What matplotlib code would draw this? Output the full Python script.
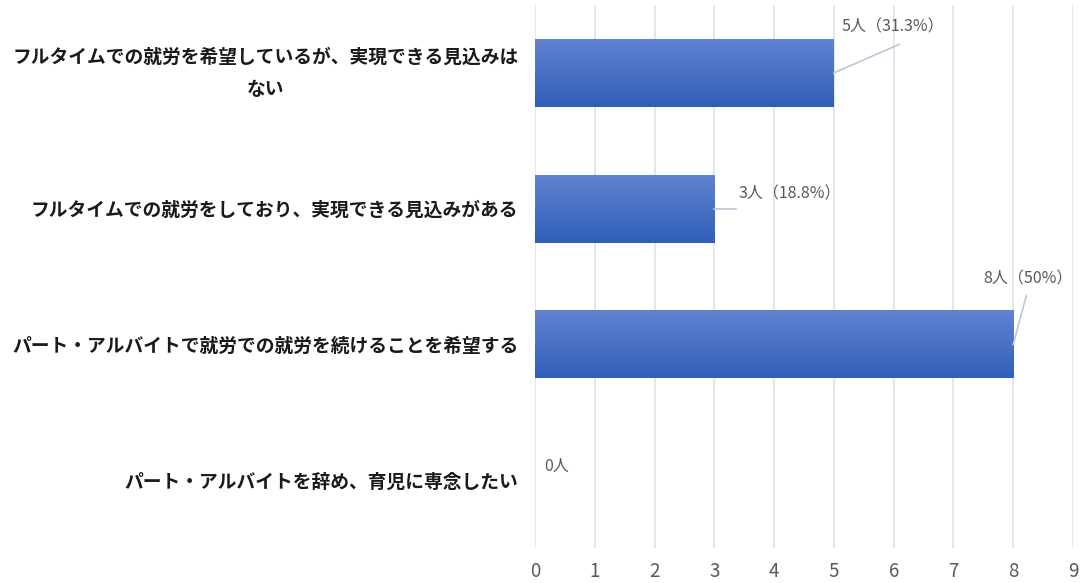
import matplotlib
matplotlib.use("Agg")
import matplotlib.pyplot as plt  # noqa: E402
import matplotlib.transforms as mtransforms  # noqa: E402
import numpy as np  # noqa: E402
from matplotlib.colors import LinearSegmentedColormap  # noqa: E402

plt.rcParams["font.family"] = ["Noto Sans CJK JP", "DejaVu Sans"]

categories = [
    "フルタイムでの就労を希望しているが、実現できる見込みは\nない",
    "フルタイムでの就労をしており、実現できる見込みがある",
    "パート・アルバイトで就労での就労を続けることを希望する",
    "パート・アルバイトを辞め、育児に専念したい",
]
counts = [5, 3, 8, 0]
percents = [31.3, 18.8, 50, None]
x_ticks = list(range(0, 10))

# label placement: (leader end dx, leader end dy, text dx, text dy) relative to bar end
label_offsets = [
    (1.09, -0.21, 0.12, -0.34),
    (0.37, 0.0, 0.40, -0.11),
    (0.22, -0.36, -0.50, -0.48),
    (None, None, 0.15, -0.10),
]

grad = LinearSegmentedColormap.from_list("bar", ["#2f5fb9", "#6283d0"])

fig = plt.figure(figsize=(10.8, 5.83), dpi=100)
ax = fig.add_axes([0.4954, 0.06, 0.4981, 0.9314])

y = np.arange(len(categories))
bars = ax.barh(y, counts, height=0.5, color="none", edgecolor="none", zorder=3)

# vertical gradient fill, clipped to each bar
g = np.linspace(0, 1, 256).reshape(-1, 1)
for rect in bars:
    w = rect.get_width()
    if w <= 0:
        continue
    y0 = rect.get_y()
    h = rect.get_height()
    im = ax.imshow(g, cmap=grad, aspect="auto", origin="lower",
                   extent=(0, w, y0 + h, y0), zorder=3, interpolation="bilinear")
    im.set_clip_path(rect)

for i, (c, p) in enumerate(zip(counts, percents)):
    lx, ly, tx, ty = label_offsets[i]
    txt = f"{c}人" if p is None else f"{c}人（{p:g}%）"
    if lx is not None:
        ax.plot([c, c + lx], [i, i + ly], color="#bcc6d8", lw=1.2, zorder=4)
    ax.text(c + tx, i + ty, txt, ha="left", va="center", fontsize=11.5,
            color="#595959", zorder=5)

ax.set_xlim(0, 9)
ax.set_ylim(3.5, -0.5)
ax.set_xticks(x_ticks)
ax.set_xticklabels([str(t) for t in x_ticks], fontsize=13.5, color="#595959")
ax.set_yticks(y)
ax.set_yticklabels(categories, fontsize=13.5, fontweight="bold", color="#1a1a1a",
                   multialignment="center", linespacing=1.9)
ax.tick_params(axis="both", length=0)
ax.tick_params(axis="x", pad=9)
ax.tick_params(axis="y", pad=12)
ax.grid(axis="x", color="#dfe2ea", lw=1.2, zorder=0)
ax.set_axisbelow(True)
for s in ax.spines.values():
    s.set_visible(False)

# two-line label sits a little low; nudge it up
lbl = ax.get_yticklabels()[0]
lbl.set_transform(lbl.get_transform()
                  + mtransforms.ScaledTranslation(0, 8 / 100, fig.dpi_scale_trans))

fig.savefig("out.png", dpi=100)
